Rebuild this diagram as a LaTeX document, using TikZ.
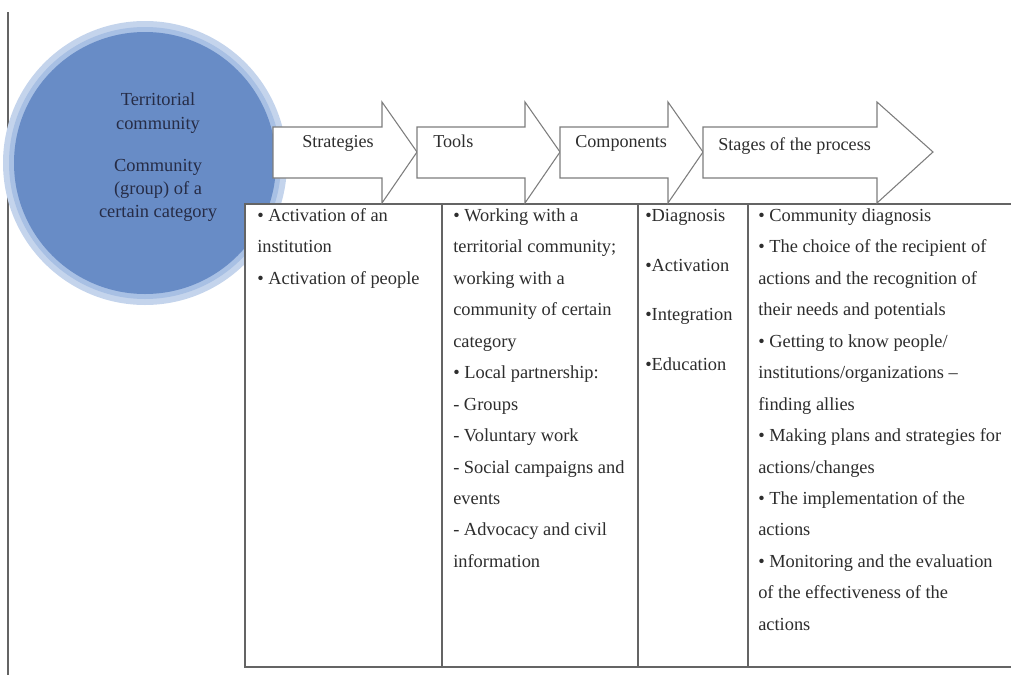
\documentclass[tikz,border=0pt]{standalone}
\usepackage{fontspec}
\setmainfont{Liberation Serif}
\definecolor{circfill}{RGB}{104,140,198}
\definecolor{halo}{RGB}{196,212,236}
\definecolor{haloin}{RGB}{168,192,228}
\definecolor{circtext}{RGB}{38,44,70}
\definecolor{txtc}{RGB}{45,45,45}
\definecolor{linec}{RGB}{100,100,100}
\definecolor{arrowc}{RGB}{125,125,125}
\begin{document}
\begin{tikzpicture}[x=0.75pt,y=-0.75pt,
  cellfont/.style={font=\fontsize{13.8}{23.6}\selectfont},
  celltext/.style={cellfont, text=txtc, align=left, inner sep=0pt, anchor=north west},
  headtext/.style={font=\fontsize{13.6}{16}\selectfont, text=txtc, inner sep=0pt, anchor=base west},
  arrowshape/.style={draw=arrowc, fill=white, line width=0.8pt, line join=miter},
  tline/.style={draw=linec, line width=1.1pt},
  circtxt/.style={text=circtext, align=center, inner sep=0pt, anchor=north}]
\useasboundingbox (0,0) rectangle (1011,675);
% left rule
\coordinate (lt) at (8,12);
\coordinate (lb) at (8,675);
\draw[draw=linec, line width=1.4pt] (lt) -- (lb);
% circle with halo
\fill[halo] (145,163) circle (142);
\fill[haloin] (145,163) circle (136);
\fill[circfill] (145,163) circle (131);
\node[circtxt, font=\fontsize{13.8}{18}\selectfont] (c1) at (158,88.2) {\strut Territorial\\community};
\node[circtxt, font=\fontsize{13.8}{16.9}\selectfont] (c2) at (158,155.9) {\strut Community\\(group) of a\\certain category};
% table
\fill[white] (245,204) rectangle (1011,667);
\draw[tline] (1011,204) -- (245,204) -- (245,667) -- (1011,667);
\draw[tline] (442,204) -- (442,667);
\draw[tline] (638,204) -- (638,667);
\draw[tline] (748,204) -- (748,667);
% arrows
\draw[arrowshape] (273,127) -- (382,127) -- (382,102) -- (417,152) -- (382,203) -- (382,178) -- (273,178) -- cycle;
\draw[arrowshape] (417,127) -- (525,127) -- (525,102) -- (560,152) -- (525,203) -- (525,178) -- (417,178) -- cycle;
\draw[arrowshape] (560,127) -- (668,127) -- (668,102) -- (703,152) -- (668,203) -- (668,178) -- (560,178) -- cycle;
\draw[arrowshape] (703,127) -- (877,127) -- (877,102) -- (933,152) -- (877,203) -- (877,178) -- (703,178) -- cycle;
\node[headtext] (h1) at (302,147) {Strategies};
\node[headtext] (h2) at (433,147) {Tools};
\node[headtext] (h3) at (575,147) {Components};
\node[headtext] (h4) at (718,150) {Stages of the process};
% table texts
\node[celltext] (t1) at (257,199) {\strut• Activation of an\\institution\\• Activation of people};
\node[celltext] (t2) at (453,199) {\strut• Working with a\\territorial community;\\working with a\\community of certain\\category\\• Local partnership:\\- Groups\\- Voluntary work\\- Social campaigns and\\events\\- Advocacy and civil\\information};
\node[celltext, font=\fontsize{13.8}{37.3}\selectfont] (t3) at (645,186.2) {\strut•Diagnosis\\•Activation\\•Integration\\•Education};
\node[celltext] (t4) at (758,199) {\strut• Community diagnosis\\• The choice of the recipient of\\actions and the recognition of\\their needs and potentials\\• Getting to know people/\\institutions/organizations –\\finding allies\\• Making plans and strategies for\\actions/changes\\• The implementation of the\\actions\\• Monitoring and the evaluation\\of the effectiveness of the\\actions};
\end{tikzpicture}
\end{document}
